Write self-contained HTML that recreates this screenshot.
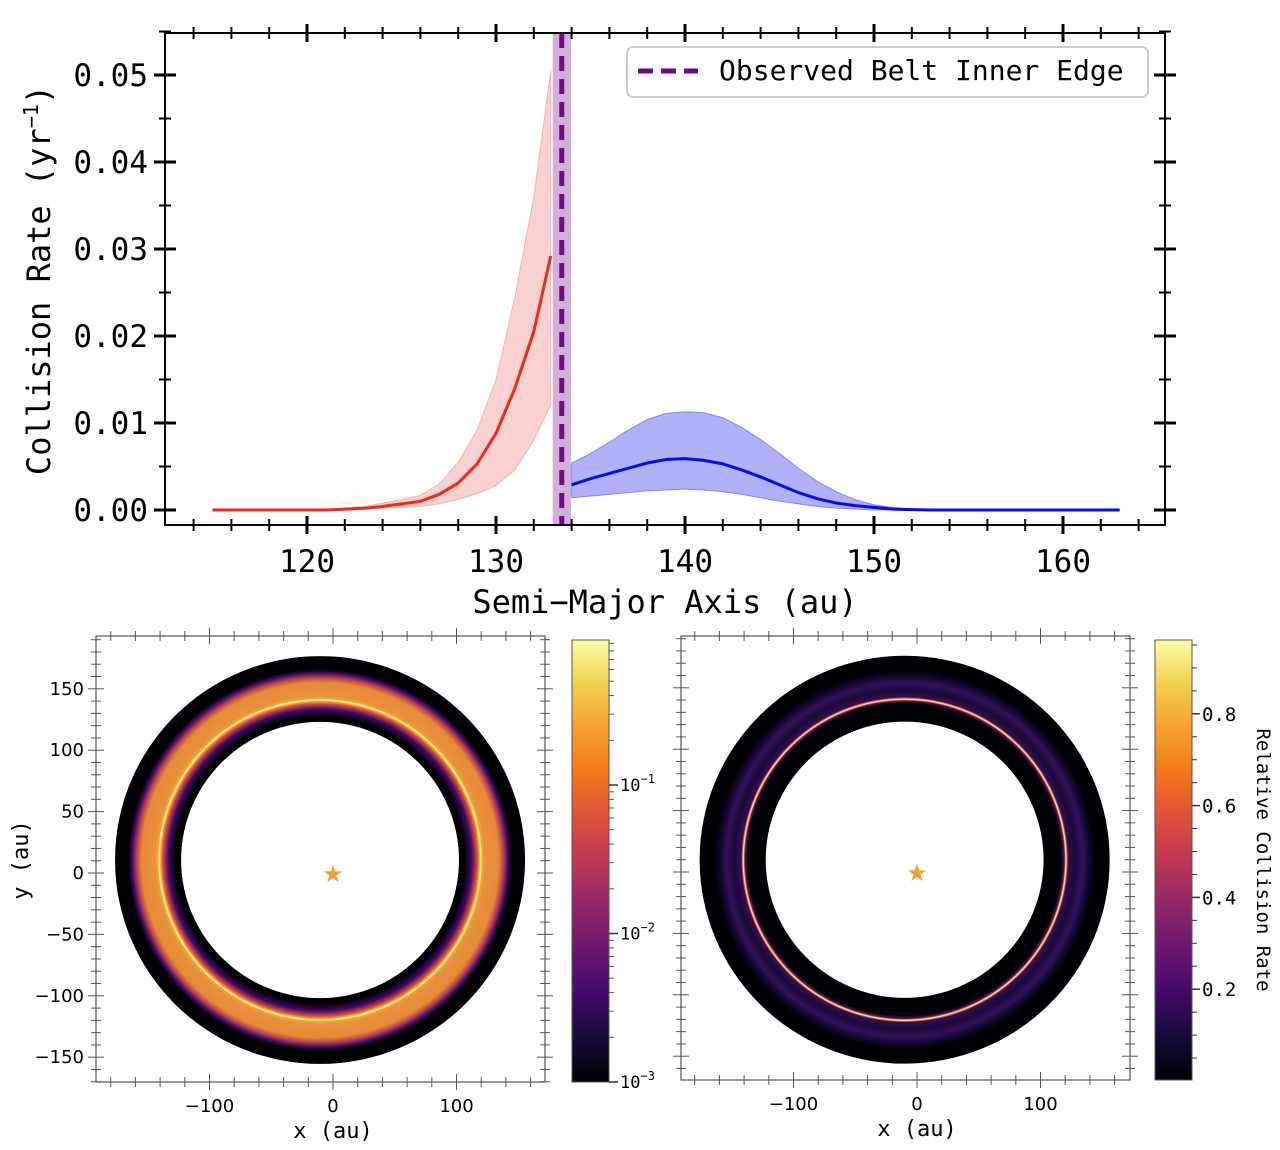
<!DOCTYPE html>
<html><head><meta charset="utf-8">
<style>
body{margin:0;background:#fff;}
svg{display:block;}
.mono{font-family:"DejaVu Sans Mono","Liberation Mono",monospace;}
.sans{font-family:"DejaVu Sans","Liberation Sans",sans-serif;}
</style></head>
<body>
<svg id="fig" width="1280" height="1150" viewBox="0 0 1280 1150" xmlns="http://www.w3.org/2000/svg">
<defs>
<radialGradient id="gLeft" cx="0.5" cy="0.5" r="0.5">
<stop offset="0.675" stop-color="#000004"/><stop offset="0.705" stop-color="#000004"/>
<stop offset="0.74" stop-color="#420a68"/><stop offset="0.768" stop-color="#dd513a"/>
<stop offset="0.779" stop-color="#f4b640"/><stop offset="0.785" stop-color="#fcffa4"/>
<stop offset="0.791" stop-color="#f0a83a"/><stop offset="0.805" stop-color="#e9913a"/>
<stop offset="0.87" stop-color="#e68a3a"/><stop offset="0.895" stop-color="#b8404f"/>
<stop offset="0.915" stop-color="#4a0f6a"/><stop offset="0.935" stop-color="#000004"/>
<stop offset="1" stop-color="#000004"/>
</radialGradient>
<radialGradient id="gRight" cx="0.5" cy="0.5" r="0.5">
<stop offset="0.675" stop-color="#000004"/><stop offset="0.765" stop-color="#000004"/>
<stop offset="0.779" stop-color="#5c126e"/><stop offset="0.783" stop-color="#e07040"/>
<stop offset="0.787" stop-color="#fcffa4"/><stop offset="0.791" stop-color="#e08a40"/>
<stop offset="0.797" stop-color="#3a0a5a"/>
<stop offset="0.83" stop-color="#180a38"/><stop offset="0.87" stop-color="#32105a"/>
<stop offset="0.90" stop-color="#12072e"/><stop offset="0.93" stop-color="#000004"/>
<stop offset="1" stop-color="#000004"/>
</radialGradient>
<linearGradient id="inferno" x1="0" y1="1" x2="0" y2="0">
<stop offset="0" stop-color="#000004"/><stop offset="0.1" stop-color="#160b39"/>
<stop offset="0.2" stop-color="#420a68"/><stop offset="0.3" stop-color="#6a176e"/>
<stop offset="0.4" stop-color="#932667"/><stop offset="0.5" stop-color="#bc3754"/>
<stop offset="0.6" stop-color="#dd513a"/><stop offset="0.7" stop-color="#f37819"/>
<stop offset="0.8" stop-color="#f5a030"/><stop offset="0.9" stop-color="#f0d050"/>
<stop offset="1" stop-color="#fcffa4"/>
</linearGradient>
</defs>
<g id="top"></g>
<g id="bl"></g>
<g id="br"></g>
</svg>
<script>
// ---- top chart data ----
const redX   = [115,116,117,118,119,120,121,122,123,124,125,126,127,128,129,130,131,132,132.9];
const redMean= [0,0,0,0,0,0,0,0.0001,0.0002,0.0004,0.0007,0.0010,0.0018,0.0031,0.0053,0.0088,0.0140,0.0205,0.0292];
const redUp  = [0,0,0,0,0,0,0.0001,0.0002,0.0004,0.0008,0.0012,0.0017,0.0030,0.0055,0.0092,0.0150,0.0245,0.0360,0.0506];
const redLo  = [0,0,0,0,0,0,0,0,0.0001,0.0002,0.0003,0.0004,0.0007,0.0012,0.0019,0.0028,0.0046,0.0080,0.0121];
const blueX   = [134,135,136,137,138,139,140,141,142,143,144,145,146,147,148,149,150,151,152,153,155,158,163];
const blueMean= [0.0029,0.0036,0.0042,0.0048,0.0054,0.0058,0.0059,0.0057,0.0053,0.0046,0.0038,0.0029,0.0020,0.0013,0.0008,0.0005,0.0003,0.0001,0.00005,0,0,0,0];
const blueUp  = [0.0054,0.0065,0.0078,0.0092,0.0104,0.0111,0.0113,0.0112,0.0106,0.0095,0.0081,0.0065,0.0048,0.0033,0.0021,0.0012,0.0006,0.0003,0.0001,0,0,0,0];
const blueLo  = [0.0014,0.0016,0.0018,0.0020,0.0022,0.0023,0.0024,0.0023,0.0021,0.0018,0.0014,0.0010,0.0007,0.0004,0.0002,0.0001,0,0,0,0,0,0,0];
const edgeX = [133.48];
const edgeBand = [133.0, 133.97];
const xTicks = [120,130,140,150,160];
const yTicks = [0,0.01,0.02,0.03,0.04,0.05];
const yTickLabels = ["0.00","0.01","0.02","0.03","0.04","0.05"];
// ---- ring maps data ----
const ringCenterL = [-10.5, 10.6];
const ringCenterR = [-10, 10];
const ringRadii = [112.5, 166]; // inner hole, outer edge (au)
const mapXTicks = [-100,0,100];
const mapYTicks = [-150,-100,-50,0,50,100,150];
const cbLogTicks = [-3,-2,-1];
const cbLinTicks = [0.2,0.4,0.6,0.8];

const NS="http://www.w3.org/2000/svg";
function mk(parent,tag,attrs,text){const e=document.createElementNS(NS,tag);for(const k in attrs)e.setAttribute(k,attrs[k]);if(text!==undefined)e.textContent=text;parent.appendChild(e);return e;}

// ---------- TOP ----------
const T=document.getElementById('top');
const L=165,R=1165,TT=33,B=525;
const sx=a=>307+(a-120)*18.9;
const sy=v=>510-v*8700;
let e;
e=mk(T,'rect',{x:sx(edgeBand[0]),y:TT,width:sx(edgeBand[1])-sx(edgeBand[0]),height:B-TT,fill:'#d3b0d8'});


function band(xs,up,lo,fill,stroke,name){
 let d='M'+xs.map((x,i)=>sx(x)+','+sy(up[i])).join('L');
 for(let i=xs.length-1;i>=0;i--) d+='L'+sx(xs[i])+','+sy(lo[i]);
 const p=mk(T,'path',{d:d+'Z',fill:fill,stroke:stroke,'stroke-width':1});
 
 
}
function line(xs,ys,col,name){
 const p=mk(T,'path',{d:'M'+xs.map((x,i)=>sx(x)+','+sy(ys[i])).join('L'),fill:'none',stroke:col,'stroke-width':3});
 
 
}
band(redX,redUp,redLo,'rgba(230,70,70,0.25)','rgba(230,90,90,0.35)','red-band');
band(blueX,blueUp,blueLo,'rgba(60,60,235,0.4)','rgba(60,60,235,0.5)','blue-band');
line(redX,redMean,'#ee2a1a','red-mean-line');
line(blueX,blueMean,'#0a0af0','blue-mean-line');
e=mk(T,'line',{x1:sx(edgeX[0]),x2:sx(edgeX[0]),y1:TT,y2:B,stroke:'#6a0d83','stroke-width':5,'stroke-dasharray':'15 8'});


e=mk(T,'rect',{x:L,y:TT,width:R-L,height:B-TT,fill:'none',stroke:'#000','stroke-width':2});


for(let a=114;a<=166;a+=2){const x=sx(a);if(x<L||x>R)continue;const maj=xTicks.includes(a);const h=maj?9:6;
 mk(T,'line',{x1:x,x2:x,y1:B-h,y2:B+h,stroke:'#000','stroke-width':maj?3:2});
 mk(T,'line',{x1:x,x2:x,y1:TT-h,y2:TT+h,stroke:'#000','stroke-width':maj?3:2});}
xTicks.forEach(a=>{e=mk(T,'text',{x:sx(a),y:572,'text-anchor':'middle','font-size':31,class:'mono'},String(a));
 
 });
for(let v=0;v<=0.0551;v+=0.005){const y=sy(v);const maj=Math.abs(v*100-Math.round(v*100))<1e-6;const h=maj?11:6;
 mk(T,'line',{x1:L-h,x2:L+h,y1:y,y2:y,stroke:'#000','stroke-width':maj?3:2});
 mk(T,'line',{x1:R-h,x2:R+h,y1:y,y2:y,stroke:'#000','stroke-width':maj?3:2});}
yTicks.forEach((v,i)=>{e=mk(T,'text',{x:148,y:sy(v)+11,'text-anchor':'end','font-size':31,class:'mono'},yTickLabels[i]);
 
 });
e=mk(T,'text',{x:665,y:613,'text-anchor':'middle','font-size':32,class:'mono'},'Semi\u2212Major Axis (au)');


e=mk(T,'text',{transform:'translate(50,280) rotate(-90)','text-anchor':'middle','font-size':32,class:'mono'});


e.innerHTML='Collision Rate (yr<tspan dy="-12" font-size="20">\u22121</tspan><tspan dy="12">)</tspan>';
const lg=mk(T,'g',{});


mk(lg,'rect',{x:627,y:47,width:521,height:50,rx:6,fill:'#fff',stroke:'#ccc','stroke-width':2});
mk(lg,'line',{x1:638,x2:698,y1:71,y2:71,stroke:'#6a0d83','stroke-width':5,'stroke-dasharray':'15 8'});
mk(lg,'text',{x:719,y:80,'font-size':28,class:'mono'},'Observed Belt Inner Edge');

// ---------- ring maps ----------
function ringMap(G,box,zero,grad,center,cb){
 const msx=1.235, msy=1.228;
 const X=a=>zero[0]+a*msx, Y=a=>zero[1]-a*msy;
 const [x0,y0,x1,y1]=box;
 const cx=X(center[0]), cy=Y(center[1]);
 const ro=ringRadii[1]*msx, ri=ringRadii[0]*msx, roy=ringRadii[1]*msy, riy=ringRadii[0]*msy;
 const d=`M${cx-ro},${cy}a${ro},${roy} 0 1,0 ${2*ro},0a${ro},${roy} 0 1,0 ${-2*ro},0Z M${cx-ri},${cy}a${ri},${riy} 0 1,0 ${2*ri},0a${ri},${riy} 0 1,0 ${-2*ri},0Z`;
 let p=mk(G,'path',{d:d,'fill-rule':'evenodd',fill:`url(#${grad})`});
 
 
 p=mk(G,'text',{x:X(0),y:Y(0)+9,'text-anchor':'middle','font-size':24,fill:'#f5a030',class:'sans'},'\u2605');
 
 
 p=mk(G,'rect',{x:x0,y:y0,width:x1-x0,height:y1-y0,fill:'none',stroke:'#555','stroke-width':1.2});
 
 
 for(let a=-200;a<=200;a+=20){const x=X(a);if(x<x0||x>x1)continue;const maj=a%100===0;const h=maj?8:5;
  mk(G,'line',{x1:x,x2:x,y1:y1-h,y2:y1+h,stroke:'#555'});mk(G,'line',{x1:x,x2:x,y1:y0-h,y2:y0+h,stroke:'#555'});}
 for(let a=-200;a<=200;a+=10){const y=Y(a);if(y<y0||y>y1)continue;const maj=a%50===0;const h=maj?8:5;
  mk(G,'line',{x1:x0-h,x2:x0+h,y1:y,y2:y,stroke:'#555'});mk(G,'line',{x1:x1-h,x2:x1+h,y1:y,y2:y,stroke:'#555'});}
 mapXTicks.forEach(a=>{const t=mk(G,'text',{x:X(a),y:y1+30,'text-anchor':'middle','font-size':18,class:'sans'},a<0?'\u2212'+(-a):String(a));
  
  });
 const xl=mk(G,'text',{x:X(0),y:y1+56,'text-anchor':'middle','font-size':22,class:'mono'},'x (au)');
 
 
 const [cx0,cy0,cx1,cy1]=cb;
 p=mk(G,'rect',{x:cx0,y:cy0,width:cx1-cx0,height:cy1-cy0,fill:'url(#inferno)',stroke:'#555'});
 
 
 return {X,Y};
}
const BL=document.getElementById('bl');
const mL=ringMap(BL,[96,636,545,1082],[333,873],'gLeft',ringCenterL,[572,640,609,1082]);
mapYTicks.forEach(a=>{const t=mk(BL,'text',{x:84,y:mL.Y(a)+6,'text-anchor':'end','font-size':18,class:'sans'},a<0?'\u2212'+(-a):String(a));
 
 });
e=mk(BL,'text',{transform:'translate(28,860) rotate(-90)','text-anchor':'middle','font-size':22,class:'mono'},'y (au)');


const cbL=v=>1082-(v+3)*148.5;
for(let dec=-3;dec<-0.3;dec++){for(let m=2;m<=9;m++){const v=dec+Math.log10(m);const y=cbL(v);if(y<640)continue;mk(BL,'line',{x1:609,x2:614,y1:y,y2:y,stroke:'#555'});}}
cbLogTicks.forEach(v=>{const y=cbL(v);mk(BL,'line',{x1:609,x2:618,y1:y,y2:y,stroke:'#333','stroke-width':1.5});
 const t=mk(BL,'text',{x:620,y:y+6,'font-size':17,class:'mono'});
 
 
 t.innerHTML='10<tspan dy="-8" font-size="12">\u2212'+(-v)+'</tspan>';});

const BR=document.getElementById('br');
ringMap(BR,[681,636,1130,1080],[917,872],'gRight',ringCenterR,[1155,640,1192,1080]);
const cbR=v=>1081-v*459;
for(let v=0.05;v<0.96;v+=0.05){const y=cbR(v);const maj=cbLinTicks.some(t=>Math.abs(t-v)<1e-6);
 mk(BR,'line',{x1:1192,x2:maj?1200:1197,y1:y,y2:y,stroke:'#333','stroke-width':maj?1.5:1});}
cbLinTicks.forEach(v=>{const t=mk(BR,'text',{x:1202,y:cbR(v)+7,'font-size':19,class:'mono'},String(v));
 
 });
e=mk(BR,'text',{transform:'translate(1257,860) rotate(90)','text-anchor':'middle','font-size':19,class:'mono'},'Relative Collision Rate');


</script>
</body></html>
